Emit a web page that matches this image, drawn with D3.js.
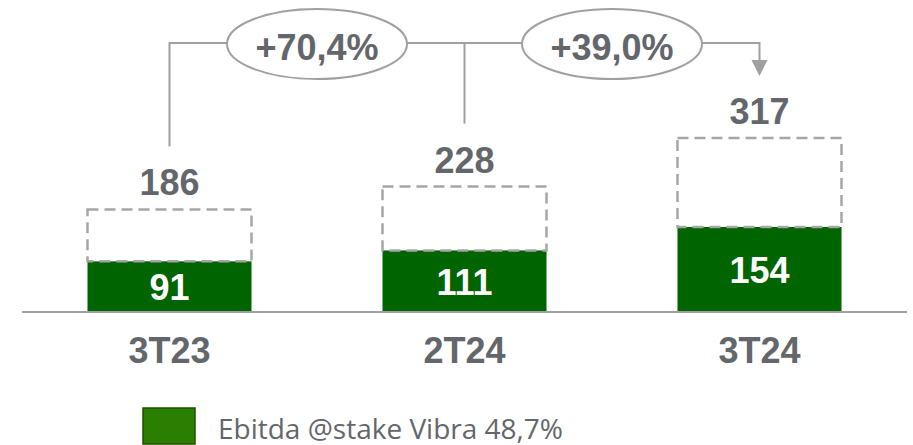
<!DOCTYPE html>
<html>
<head>
<meta charset="utf-8">
<script src="https://cdn.jsdelivr.net/npm/d3@7"></script>
<style>
  body { margin: 0; background: #fff; }
  svg { display: block; }
</style>
</head>
<body>
<div id="chart"></div>
<script>
// data
var categories = ["3T23", "2T24", "3T24"];
var ebitdaStake = [91, 111, 154];
var ebitdaTotal = [186, 228, 317];
var growthLabels = ["+70,4%", "+39,0%"];
var legendLabel = "Ebitda @stake Vibra 48,7%";

var width = 913, height = 445;
var grey = "#63666a", lineGrey = "#a0a0a0", green = "#006400";

var svg = d3.select("#chart")
    .append("svg")
    .attr("width", width)
    .attr("height", height);

var x = d3.scaleBand()
    .domain(categories)
    .range([22, 907])
    .paddingInner(0.444)
    .paddingOuter(0.222);

var y = d3.scaleLinear()
    .domain([0, 317])
    .range([311, 138]);

var cx = function (i) { return x(categories[i]) + x.bandwidth() / 2; };

// baseline axis
svg.append("line")
    .attr("x1", 22).attr("x2", 907)
    .attr("y1", y(0) + 1).attr("y2", y(0) + 1)
    .attr("stroke", lineGrey)
    .attr("stroke-width", 2);

// green bars
svg.selectAll(".bar")
    .data(ebitdaStake)
    .enter()
    .append("rect")
    .attr("x", function (d, i) { return x(categories[i]); })
    .attr("y", function (d) { return y(d); })
    .attr("width", x.bandwidth())
    .attr("height", function (d) { return y(0) - y(d); })
    .attr("fill", green);

// dashed boxes for total
svg.selectAll(".box")
    .data(ebitdaTotal)
    .enter()
    .append("rect")
    .attr("x", function (d, i) { return x(categories[i]); })
    .attr("y", function (d) { return y(d); })
    .attr("width", x.bandwidth())
    .attr("height", function (d, i) { return y(ebitdaStake[i]) - y(d); })
    .attr("fill", "none")
    .attr("stroke", "#a6a6a6")
    .attr("stroke-width", 2.5)
    .attr("stroke-dasharray", "11,6");

var font = "Liberation Sans, Arial, sans-serif";

// values inside bars
svg.selectAll(".val")
    .data(ebitdaStake)
    .enter()
    .append("text")
    .attr("x", function (d, i) { return cx(i); })
    .attr("y", function (d) { return (y(d) + y(0)) / 2 + 14; })
    .attr("text-anchor", "middle")
    .attr("font-family", font)
    .attr("font-weight", "bold")
    .attr("font-size", 36)
    .attr("fill", "#fff")
    .text(function (d) { return d; });

// totals above boxes
svg.selectAll(".tot")
    .data(ebitdaTotal)
    .enter()
    .append("text")
    .attr("x", function (d, i) { return cx(i); })
    .attr("y", function (d) { return y(d) - 14; })
    .attr("text-anchor", "middle")
    .attr("font-family", font)
    .attr("font-weight", "bold")
    .attr("font-size", 36)
    .attr("fill", grey)
    .text(function (d) { return d; });

// category labels
svg.selectAll(".cat")
    .data(categories)
    .enter()
    .append("text")
    .attr("x", function (d) { return x(d) + x.bandwidth() / 2; })
    .attr("y", 363)
    .attr("text-anchor", "middle")
    .attr("font-family", font)
    .attr("font-weight", "bold")
    .attr("font-size", 36)
    .attr("fill", grey)
    .text(function (d) { return d; });

// growth bracket
var topY = 43;
var lineEnd = function (i) { return y(ebitdaTotal[i]) - 14 - 26 - 23; };

svg.append("path")
    .attr("d", "M" + cx(0) + "," + lineEnd(0) + "V" + topY + "H" + cx(2) + "V" + (lineEnd(2) - 15))
    .attr("fill", "none")
    .attr("stroke", lineGrey)
    .attr("stroke-width", 2);
svg.append("line")
    .attr("x1", cx(1)).attr("x2", cx(1))
    .attr("y1", topY).attr("y2", lineEnd(1))
    .attr("stroke", lineGrey)
    .attr("stroke-width", 2);
svg.append("path")
    .attr("d", "M" + (cx(2) - 8) + "," + (lineEnd(2) - 15) + "H" + (cx(2) + 8) + "L" + cx(2) + "," + (lineEnd(2) + 1) + "Z")
    .attr("fill", lineGrey);

var growth = svg.selectAll(".growth")
    .data(growthLabels)
    .enter()
    .append("g")
    .attr("transform", function (d, i) { return "translate(" + ((cx(i) + cx(i + 1)) / 2) + "," + 44 + ")"; });
growth.append("ellipse")
    .attr("rx", 90).attr("ry", 35)
    .attr("fill", "#fff")
    .attr("stroke", lineGrey)
    .attr("stroke-width", 2);
growth.append("text")
    .attr("y", 16)
    .attr("text-anchor", "middle")
    .attr("font-family", font)
    .attr("font-weight", "bold")
    .attr("font-size", 36)
    .attr("fill", grey)
    .text(function (d) { return d; });

// legend
svg.append("rect")
    .attr("x", 143).attr("y", 408)
    .attr("width", 52).attr("height", 36)
    .attr("fill", "#2a7f00")
    .attr("stroke", "#1d5200")
    .attr("stroke-width", 1.5);
svg.append("text")
    .attr("x", 218).attr("y", 439)
    .attr("font-family", "Open Sans, sans-serif")
    .attr("font-size", 28)
    .attr("fill", grey)
    .text(legendLabel);
</script>
</body>
</html>
